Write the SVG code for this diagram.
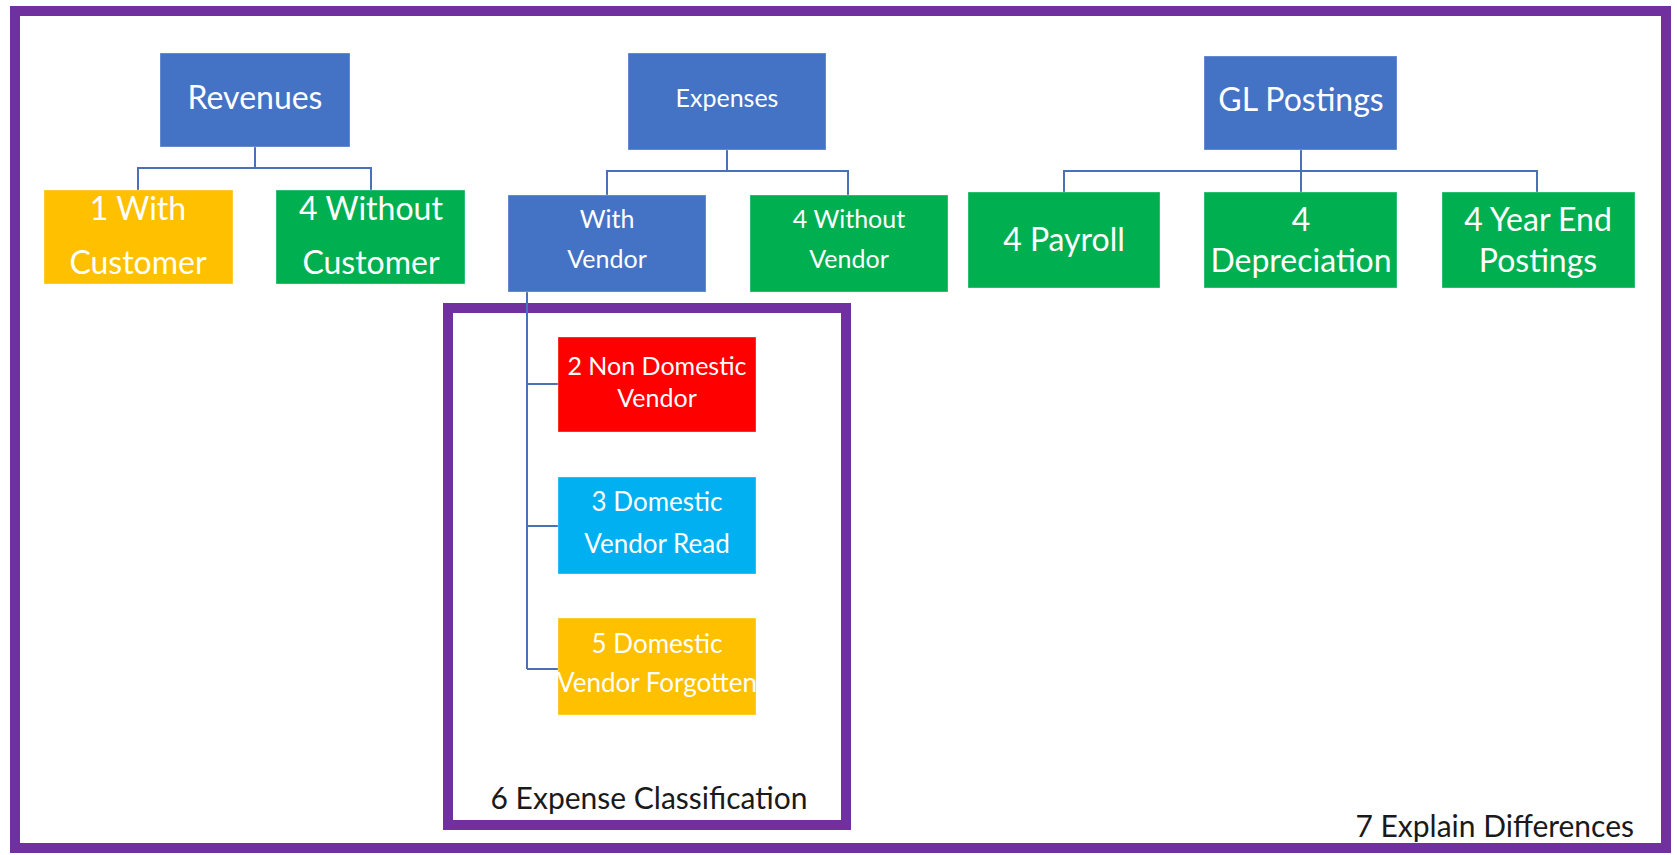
<svg xmlns="http://www.w3.org/2000/svg" width="1677" height="855" viewBox="0 0 1677 855">
<style>
.frame{fill:none;stroke:#7030A0;stroke-width:10}
.box{stroke:#ffffff;stroke-opacity:0.35;stroke-width:1}
.blue{fill:#4472C4}.green{fill:#00B050}.orange{fill:#FFC000}.red{fill:#FF0000}.cyan{fill:#00B0F0}
.t{font-family:Lato,"Open Sans",sans-serif;fill:#ffffff;text-anchor:middle}
.l{font-size:32px}.m{font-size:25px}.s{font-size:26px}
.dark{font-family:Lato,"Open Sans",sans-serif;fill:#1a1a1a;font-size:30px}
.conn{fill:none;stroke:#4A70B8;stroke-width:2}
</style>
<rect x="0" y="0" width="1677" height="855" fill="#ffffff"/>
<g id="outer-frame"><rect class="frame" x="15" y="11" width="1651" height="837"/></g>
<g id="expense-classification-frame"><rect class="frame" x="448" y="308" width="398" height="517"/></g>
<g id="connectors">
<path class="conn" d="M255 147V168M138 190V168H371V190"/>
<path class="conn" d="M727 150V171M607 195V171H848V195"/>
<path class="conn" d="M1301 150V192M1064 192V171H1537V192"/>
<path class="conn" d="M527 292V669M527 384H558M527 526H558M527 669H558"/>
</g>
<g id="revenues"><rect class="box blue" x="160" y="53" width="190" height="94"/><text class="t l" x="255" y="109">Revenues</text></g>
<g id="with-customer"><rect class="box orange" x="44" y="190" width="189" height="94"/><text class="t l" x="138" y="220">1 With</text><text class="t l" x="138" y="274">Customer</text></g>
<g id="without-customer"><rect class="box green" x="276" y="190" width="189" height="94"/><text class="t l" x="371" y="220">4 Without</text><text class="t l" x="371" y="274">Customer</text></g>
<g id="expenses"><rect class="box blue" x="628" y="53" width="198" height="97"/><text class="t m" x="727" y="107">Expenses</text></g>
<g id="with-vendor"><rect class="box blue" x="508" y="195" width="198" height="97"/><text class="t m" x="607" y="228">With</text><text class="t m" x="607" y="268">Vendor</text></g>
<g id="without-vendor"><rect class="box green" x="750" y="195" width="198" height="97"/><text class="t m" x="849" y="228">4 Without</text><text class="t m" x="849" y="268">Vendor</text></g>
<g id="gl-postings"><rect class="box blue" x="1204" y="56" width="193" height="94"/><text class="t l" x="1301" y="111">GL Postings</text></g>
<g id="payroll"><rect class="box green" x="968" y="192" width="192" height="96"/><text class="t l" x="1064" y="251">4 Payroll</text></g>
<g id="depreciation"><rect class="box green" x="1204" y="192" width="193" height="96"/><text class="t l" x="1301" y="231">4</text><text class="t l" x="1301" y="272">Depreciation</text></g>
<g id="year-end"><rect class="box green" x="1442" y="192" width="193" height="96"/><text class="t l" x="1538" y="231">4 Year End</text><text class="t l" x="1538" y="272">Postings</text></g>
<g id="non-domestic"><rect class="box red" x="558" y="337" width="198" height="95"/><text class="t m" x="657" y="375">2 Non Domestic</text><text class="t m" x="657" y="407">Vendor</text></g>
<g id="domestic-read"><rect class="box cyan" x="558" y="477" width="198" height="97"/><text class="t s" x="657" y="511">3 Domestic</text><text class="t s" x="657" y="553">Vendor Read</text></g>
<g id="domestic-forgotten"><rect class="box orange" x="558" y="618" width="198" height="97"/><text class="t s" x="657" y="653">5 Domestic</text><text class="t s" x="657" y="692">Vendor Forgotten</text></g>
<g id="label-6"><text class="dark" x="649" y="809" text-anchor="middle">6 Expense Classification</text></g>
<g id="label-7"><text class="dark" x="1634" y="837" text-anchor="end">7 Explain Differences</text></g>
</svg>
